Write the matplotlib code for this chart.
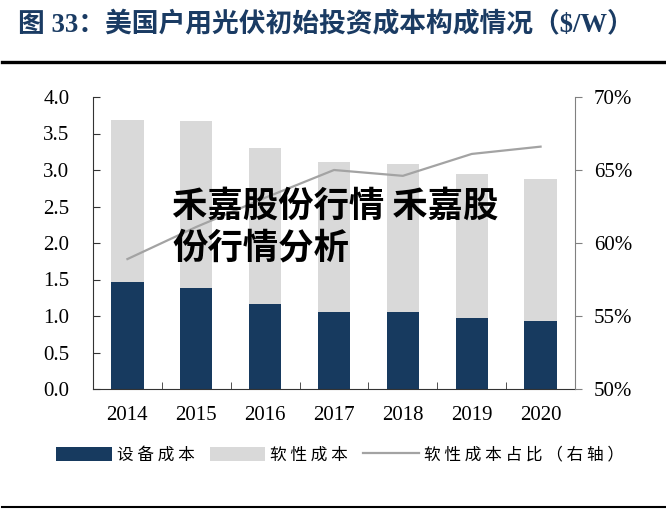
import matplotlib
matplotlib.use("Agg")
import matplotlib.pyplot as plt
from matplotlib.patches import Patch
from matplotlib.lines import Line2D
from matplotlib.ticker import FuncFormatter

plt.rcParams['font.family'] = ['Liberation Serif', 'Noto Sans CJK SC', 'DejaVu Sans']

years = ['2014', '2015', '2016', '2017', '2018', '2019', '2020']
equipment = [1.47, 1.39, 1.17, 1.05, 1.05, 0.97, 0.93]
total = [3.68, 3.67, 3.30, 3.11, 3.08, 2.95, 2.87]
soft = [t - e for t, e in zip(total, equipment)]
soft_ratio = [58.9, 61.1, 63.1, 65.0, 64.6, 66.1, 66.6]

title = '图 33：美国户用光伏初始投资成本构成情况（$/W）'
labels = ['设备成本', '软性成本', '软性成本占比（右轴）']
overlay = '禾嘉股份行情 禾嘉股\n份行情分析'

navy = '#173a5f'
lgray = '#d9d9d9'
lcolor = '#a3a3a3'

W, H = 666, 509
fig = plt.figure(figsize=(W / 100, H / 100), dpi=100)
ax = fig.add_axes([93 / W, 1 - 389 / H, (575 - 93) / W, (389 - 97) / H])
x = list(range(len(years)))
bw = 0.47
ax.bar(x, equipment, width=bw, color=navy, zorder=2)
ax.bar(x, soft, width=bw, bottom=equipment, color=lgray, zorder=2)
ax.set_xlim(-0.5, len(years) - 0.5)
ax.set_ylim(0, 4.0)
ax.set_yticks([i * 0.5 for i in range(9)])
ax.yaxis.set_major_formatter(FuncFormatter(lambda v, p: f'{v:.1f}'))
ax.set_xticks(x)
ax.set_xticklabels(years)
ax.set_xticks([i + 0.5 for i in range(len(years) - 1)], minor=True)
ax.tick_params(axis='x', which='major', length=0, pad=12.5, labelsize=15)
ax.tick_params(axis='x', which='minor', direction='in', length=5, color='#333333')
ax.tick_params(axis='y', direction='in', length=5, pad=17, labelsize=15, color='#333333')
for s in ['top', 'right']:
    ax.spines[s].set_visible(False)
ax.spines['left'].set_color('#333333')
ax.spines['bottom'].set_color('#333333')

ax2 = ax.twinx()
ax2.plot(x, soft_ratio, color=lcolor, lw=1.6, zorder=3)
ax2.set_ylim(50, 70)
ax2.set_yticks([50, 55, 60, 65, 70])
ax2.yaxis.set_major_formatter(FuncFormatter(lambda v, p: f'{v:.0f}%'))
ax2.tick_params(axis='y', direction='out', length=5, pad=8.5, labelsize=15, color='#808080')
for s in ['top', 'left', 'bottom']:
    ax2.spines[s].set_visible(False)
ax2.spines['right'].set_color('#808080')

fig.text(18 / W, 1 - 25 / H, title, fontsize=19.3, fontweight='bold', color='#1a3b63',
         va='center', ha='left')
fig.add_artist(Line2D([2 / W, 1], [1 - 62 / H, 1 - 62 / H], color='black', lw=2.4))
fig.add_artist(Line2D([2 / W, 1], [1 - 507 / H, 1 - 507 / H], color='black', lw=1.5))

fig.text(172 / W, 1 - 227 / H, overlay, fontsize=25.5, fontweight='bold', color='black',
         family=['Noto Sans CJK SC'], va='center', ha='left', linespacing=1.25, zorder=10)

spaced = [' '.join(list(s)) for s in labels]
handles = [Patch(facecolor=navy, edgecolor='none'),
           Patch(facecolor=lgray, edgecolor='none'),
           Line2D([0], [0], color=lcolor, lw=1.6)]
fig.legend(handles, spaced, loc='center', bbox_to_anchor=(340 / W, 1 - 455 / H), ncol=3,
           frameon=False, handlelength=3.35, handleheight=0.95,
           handletextpad=0.3, columnspacing=0.9, borderpad=0, borderaxespad=0,
           prop={'family': ['Noto Sans CJK SC'], 'size': 12})

fig.savefig('out.png', dpi=100)
